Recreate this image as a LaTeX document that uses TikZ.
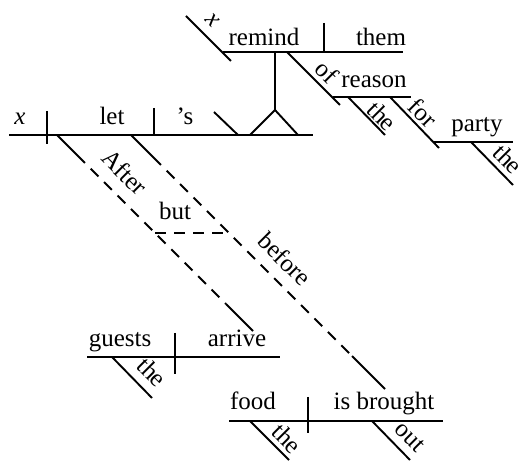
\documentclass[tikz,border=0pt]{standalone}
\usepackage{fontspec}
\setmainfont{Liberation Serif}
\begin{document}
\begin{tikzpicture}[x=1pt,y=-1pt,
  ln/.style={line width=1.9pt},
  dl/.style={line width=1.9pt, dash pattern=on 11pt off 8pt},
  wd/.style={font=\fontsize{25}{30}\selectfont, inner sep=0pt, anchor=base},
  sw/.style={font=\fontsize{25}{30}\selectfont, inner sep=0pt, anchor=center, rotate=-45}]
\useasboundingbox (0,0) rectangle (528,462);
% ---- coordinates ----
\coordinate (mA) at (9,135);   \coordinate (mB) at (313,135);
\coordinate (d1a) at (47,111); \coordinate (d1b) at (47,144);
\coordinate (d2a) at (154,108);\coordinate (d2b) at (154,135);
\coordinate (oca) at (214,112);\coordinate (ocb) at (238,135);
\coordinate (pl) at (250,135); \coordinate (pt) at (275,110); \coordinate (pr) at (298,135);
\coordinate (uA) at (223,52);  \coordinate (uB) at (403,52); \coordinate (st) at (275,52);
\coordinate (usa) at (186,16); \coordinate (usb) at (231,61);
\coordinate (ud1) at (324,23); \coordinate (ud2) at (324,52);
\coordinate (ofa) at (287,52); \coordinate (ofb) at (340,105);
\coordinate (rA) at (333,97);  \coordinate (rB) at (411,97);
\coordinate (t1a) at (348,97); \coordinate (t1b) at (385,135);
\coordinate (fra) at (390,97); \coordinate (frb) at (439,148);
\coordinate (pA) at (433,142); \coordinate (pB) at (513,142);
\coordinate (t2a) at (471,142);\coordinate (t2b) at (513,185);
% line 1 (After)
\coordinate (l1a) at (57,135); \coordinate (l1b) at (85,163);
\coordinate (l1c) at (226,304);\coordinate (l1d) at (253,331);
\coordinate (bL) at (155,233); \coordinate (bR) at (228,233);
% line 2 (before)
\coordinate (l2a) at (131,135);\coordinate (l2b) at (161,165);
\coordinate (l2c) at (352,356);\coordinate (l2d) at (385,389);
% guests clause
\coordinate (gA) at (87,357);  \coordinate (gB) at (280,357);
\coordinate (gda) at (175,333);\coordinate (gdb) at (175,374);
\coordinate (gta) at (112,357);\coordinate (gtb) at (152,398);
% food clause
\coordinate (fA) at (229,421); \coordinate (fB) at (443,421);
\coordinate (fda) at (308,397);\coordinate (fdb) at (308,433);
\coordinate (fta) at (250,421);\coordinate (ftb) at (289,460);
\coordinate (foa) at (372,421);\coordinate (fob) at (410,460);
% ---- lines ----
\draw[ln] (mA) -- (mB);
\draw[ln] (d1a) -- (d1b);
\draw[ln] (d2a) -- (d2b);
\draw[ln] (oca) -- (ocb);
\draw[ln] (pl) -- (pt) -- (pr);
\draw[ln] (pt) -- (st);
\draw[ln] (uA) -- (uB);
\draw[ln] (usa) -- (usb);
\draw[ln] (ud1) -- (ud2);
\draw[ln] (ofa) -- (ofb);
\draw[ln] (rA) -- (rB);
\draw[ln] (t1a) -- (t1b);
\draw[ln] (fra) -- (frb);
\draw[ln] (pA) -- (pB);
\draw[ln] (t2a) -- (t2b);
\draw[ln] (l1a) -- (l1b);
\draw[dl, dash phase=11pt] (l1b) -- (l1c);
\draw[ln] (l1c) -- (l1d);
\draw[dl] (bL) -- (bR);
\draw[ln] (l2a) -- (l2b);
\draw[dl, dash phase=11pt] (l2b) -- (l2c);
\draw[ln] (l2c) -- (l2d);
\draw[ln] (gA) -- (gB);
\draw[ln] (gda) -- (gdb);
\draw[ln] (gta) -- (gtb);
\draw[ln] (fA) -- (fB);
\draw[ln] (fda) -- (fdb);
\draw[ln] (fta) -- (ftb);
\draw[ln] (foa) -- (fob);
% ---- words ----
\node[wd] (wx) at (20,125) {\itshape x};
\node[wd] (wlet) at (112,125) {let};
\node[wd] (ws) at (185,125) {’s};
\node[wd] (wremind) at (264,46) {remind};
\node[wd] (wthem) at (381,46) {them};
\node[wd] (wreason) at (374,88) {reason};
\node[wd] (wparty) at (477,132) {party};
\node[wd] (wguests) at (120,347) {guests};
\node[wd] (warrive) at (237,347) {arrive};
\node[wd] (wfood) at (253,410) {food};
\node[wd] (wbrought) at (384,410) {is brought};
\node[wd] (wbut) at (175,220) {but};
\node[sw] (wx2) at (212,20) {\itshape x};
\node[sw] (wafter) at (125,172) {After};
\node[sw] (wof) at (327,72) {of};
\node[sw] (wthe1) at (382,116) {the};
\node[sw] (wfor) at (423,113) {for};
\node[sw] (wthe2) at (508,159) {the};
\node[sw] (wbefore) at (285,259) {before};
\node[sw] (wthe3) at (152,372) {the};
\node[sw] (wthe4) at (287,438) {the};
\node[sw] (wout) at (410,437) {out};
\end{tikzpicture}
\end{document}
